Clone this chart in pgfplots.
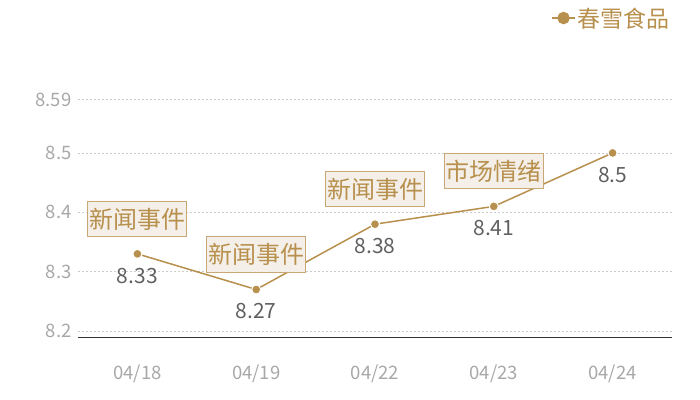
\documentclass[border=0pt]{standalone}
\usepackage{fontspec}
\setmainfont{Noto Sans CJK SC}
\usepackage{pgfplots}
\usepackage{pgfplotstable}
\pgfplotsset{compat=1.18}

\definecolor{gold}{HTML}{B8904D}
\definecolor{boxfill}{HTML}{F4EFE8}
\definecolor{boxdraw}{HTML}{C9A875}
\definecolor{ticktxt}{HTML}{A8A8A8}
\definecolor{valtxt}{HTML}{606060}
\definecolor{gridc}{HTML}{CCCCCC}

% closing prices
\pgfplotstableread{
x y
0 8.33
1 8.27
2 8.38
3 8.41
4 8.5
}\prices

% event notes above the points
\pgfplotstableread{
x y note
0 8.33 新闻事件
1 8.27 新闻事件
2 8.38 新闻事件
3 8.41 市场情绪
}\notes

\begin{document}
\begin{tikzpicture}
\begin{axis}[
    name=ax,
    scale only axis,
    width=594bp, height=237.5bp,
    xmin=-0.5, xmax=4.5,
    ymin=8.19, ymax=8.59,
    xtick={0,1,2,3,4},
    xticklabels={04/18,04/19,04/22,04/23,04/24},
    ytick={8.2,8.3,8.4,8.5,8.59},
    yticklabels={8.2,8.3,8.4,8.5,8.59},
    ymajorgrids,
    grid style={gridc, dash pattern=on 2bp off 2bp, line width=0.6bp},
    axis x line*=bottom, axis y line*=left,
    y axis line style={draw=none},
    x axis line style={draw=black!80, line width=1bp, -},
    major tick length=0pt,
    tick label style={font=\fontsize{18.5bp}{22bp}\selectfont, text=ticktxt},
    xticklabel style={yshift=-24bp},
    yticklabel style={xshift=-3bp},
    clip=false,
    legend style={at={(1,1.343)}, anchor=east, draw=none, fill=none,
        inner sep=0pt, font=\fontsize{23bp}{27bp}\selectfont, text=gold},
    legend image code/.code={
        \draw[gold, line width=1.5bp] (0bp,0bp) -- (23bp,0bp);
        \fill[gold] (11.5bp,0bp) circle (5.5bp);
    },
]
\addplot[gold, line width=1.5bp, mark=*, mark size=4.5bp,
    mark options={fill=gold, draw=white, line width=1bp},
    nodes near coords,
    point meta=y,
    nodes near coords style={anchor=center, yshift=-22bp,
        font=\fontsize{21bp}{25bp}\selectfont, text=valtxt,
        /pgf/number format/assume math mode=true},
] table[x=x, y=y] {\prices};
\addlegendentry{春雪食品}

\addplot[draw=none, mark=none, forget plot,
    nodes near coords,
    point meta=explicit symbolic,
    nodes near coords style={anchor=center, yshift=35bp,
        fill=boxfill, draw=boxdraw, line width=1bp,
        inner xsep=1.5bp, inner ysep=0bp, minimum height=35bp,
        font=\fontsize{24bp}{28bp}\selectfont, text=gold},
] table[x=x, y=y, meta=note] {\notes};

\end{axis}
\pgfresetboundingbox
\path (ax.south west) ++(-78bp,-63bp) rectangle ++(700bp,400bp);
\end{tikzpicture}
\end{document}
